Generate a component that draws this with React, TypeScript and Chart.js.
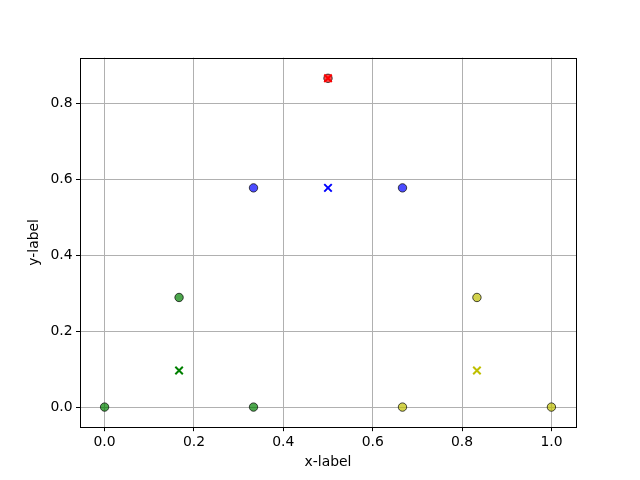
import React, { useEffect, useRef } from "react";
import { Chart, registerables } from "chart.js";

Chart.register(...registerables);

// Data
const greenCircleX = [0.0, 0.3333, 0.1667];
const greenCircleY = [0.0, 0.0, 0.2887];
const yellowCircleX = [0.6667, 1.0, 0.8333];
const yellowCircleY = [0.0, 0.0, 0.2887];
const blueCircleX = [0.3333, 0.6667];
const blueCircleY = [0.5774, 0.5774];
const redCircleX = [0.5];
const redCircleY = [0.866];

const greenCrossX = [0.1667];
const greenCrossY = [0.0962];
const yellowCrossX = [0.8333];
const yellowCrossY = [0.0962];
const blueCrossX = [0.5];
const blueCrossY = [0.5774];
const redCrossX = [0.5];
const redCrossY = [0.866];

const xTicks = [0.0, 0.2, 0.4, 0.6, 0.8, 1.0];
const yTicks = [0.0, 0.2, 0.4, 0.6, 0.8];
const xTitle = "x-label";
const yTitle = "y-label";

const zip = (xs: number[], ys: number[]) => xs.map((x, i) => ({ x, y: ys[i] }));

const FONT = "'DejaVu Sans', sans-serif";

const circleSet = (xs: number[], ys: number[], rgb: string) => ({
  data: zip(xs, ys),
  pointStyle: "circle" as const,
  pointRadius: 4.2,
  pointBackgroundColor: `rgba(${rgb},0.7)`,
  pointBorderColor: "rgba(0,0,0,0.7)",
  pointBorderWidth: 1,
  showLine: false,
  order: 2,
});

const crossSet = (xs: number[], ys: number[], color: string) => ({
  data: zip(xs, ys),
  pointStyle: "crossRot" as const,
  pointRadius: 5.3,
  pointBorderColor: color,
  pointBackgroundColor: color,
  pointBorderWidth: 2,
  showLine: false,
  order: 1,
});

const framePlugin = {
  id: "frame",
  afterDatasetsDraw(chart: any) {
    const { ctx, chartArea } = chart;
    const l = Math.round(chartArea.left) + 0.5;
    const t = Math.round(chartArea.top) + 0.5;
    const r = Math.round(chartArea.right) + 0.5;
    const b = Math.round(chartArea.bottom) + 0.5;
    ctx.save();
    ctx.strokeStyle = "#000";
    ctx.lineWidth = 1;
    ctx.strokeRect(l, t, r - l, b - t);
    ctx.restore();
  },
};

export default function App() {
  const ref = useRef<HTMLCanvasElement>(null);

  useEffect(() => {
    if (!ref.current) return;
    const chart = new Chart(ref.current, {
      type: "scatter",
      data: {
        datasets: [
          circleSet(greenCircleX, greenCircleY, "0,128,0"),
          circleSet(yellowCircleX, yellowCircleY, "191,191,0"),
          circleSet(blueCircleX, blueCircleY, "0,0,255"),
          circleSet(redCircleX, redCircleY, "255,0,0"),
          crossSet(greenCrossX, greenCrossY, "#008000"),
          crossSet(yellowCrossX, yellowCrossY, "#bfbf00"),
          crossSet(blueCrossX, blueCrossY, "#0000ff"),
          crossSet(redCrossX, redCrossY, "#ff0000"),
        ] as any,
      },
      options: {
        animation: false,
        responsive: false,
        devicePixelRatio: 1,
        layout: { padding: { left: 0, top: 57.6, right: 64, bottom: 0 } },
        plugins: { legend: { display: false }, tooltip: { enabled: false } },
        scales: {
          x: {
            type: "linear",
            min: -0.055,
            max: 1.055,
            afterFit: (s: any) => {
              s.height = 52.8;
            },
            afterBuildTicks: (s: any) => {
              s.ticks = xTicks.map((v) => ({ value: v }));
            },
            ticks: {
              color: "#000",
              padding: 3,
              maxRotation: 0,
              font: { family: FONT, size: 13.9 },
              callback: (v: any) => Number(v).toFixed(1),
            },
            grid: {
              color: "#b0b0b0",
              lineWidth: 1,
              tickColor: "#000",
              tickLength: 4,
            },
            border: { display: false },
            title: {
              display: true,
              text: xTitle,
              color: "#000",
              font: { family: FONT, size: 13.9 },
              padding: { top: 0, bottom: 9 },
            },
          },
          y: {
            type: "linear",
            min: -0.053,
            max: 0.9205,
            afterFit: (s: any) => {
              s.width = 80;
            },
            afterBuildTicks: (s: any) => {
              s.ticks = yTicks.map((v) => ({ value: v }));
            },
            ticks: {
              color: "#000",
              padding: 3.5,
              font: { family: FONT, size: 13.9 },
              callback: (v: any) => Number(v).toFixed(1),
            },
            grid: {
              color: "#b0b0b0",
              lineWidth: 1,
              tickColor: "#000",
              tickLength: 4,
            },
            border: { display: false },
            title: {
              display: true,
              text: yTitle,
              color: "#000",
              font: { family: FONT, size: 13.9 },
              padding: { top: 26.5, bottom: 0 },
            },
          },
        },
      },
      plugins: [framePlugin],
    });
    return () => chart.destroy();
  }, []);

  return (
    <div style={{ position: "absolute", left: 0, top: 0, width: 640, height: 480, background: "#fff" }}>
      <canvas ref={ref} width={640} height={480} style={{ display: "block" }} />
    </div>
  );
}
